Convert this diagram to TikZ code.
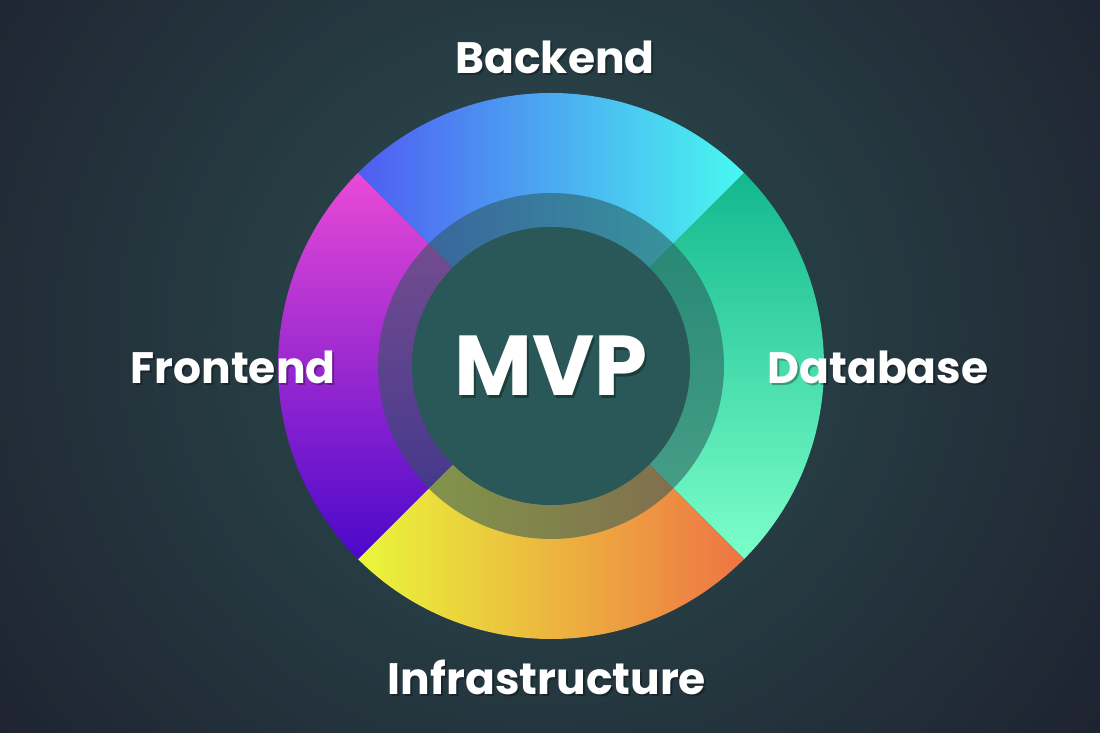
\documentclass[tikz,border=0pt]{standalone}
\usepackage{fontspec}
\setmainfont{Poppins}
\usetikzlibrary{calc}
\definecolor{bgin}{HTML}{2C4E50}
\definecolor{bgout}{HTML}{1E2230}
\definecolor{inner}{HTML}{2A5858}
\definecolor{beL}{HTML}{4F5CF2}
\definecolor{beR}{HTML}{48F8F0}
\definecolor{dbT}{HTML}{12B88E}
\definecolor{dbB}{HTML}{7CFFCA}
\definecolor{inL}{HTML}{EAF73A}
\definecolor{inR}{HTML}{EE7444}
\definecolor{feT}{HTML}{EA4AD6}
\definecolor{feB}{HTML}{4A08CA}
\tikzset{
  lbl/.style={text=white,font=\fontsize{44}{46}\selectfont\bfseries,inner sep=0pt},
  shadow/.style={text=black,opacity=0.3,font=\fontsize{44}{46}\selectfont\bfseries,inner sep=0pt},
  big/.style={text=white,font=\fontsize{85}{88}\selectfont\bfseries,inner sep=0pt},
  bigshadow/.style={text=black,opacity=0.3,font=\fontsize{85}{88}\selectfont\bfseries,inner sep=0pt},
}
\begin{document}
\begin{tikzpicture}[x=1pt,y=1pt]
\useasboundingbox (0,0) rectangle (1100,733);
\begin{scope}
\clip (0,0) rectangle (1100,733);
\fill[bgout] (0,0) rectangle (1100,733);
\shade[inner color=bgin,outer color=bgout] (540,400) circle[radius=700];
\end{scope}
\coordinate (c) at (551,367);
\def\Ro{273}\def\Ri{139}\def\Rm{173}
\shade[left color=beL,right color=beR]
  ([shift={(c)}]45:\Ro) arc[start angle=45,end angle=135,radius=\Ro] -- ([shift={(c)}]135:\Ri) arc[start angle=135,end angle=45,radius=\Ri] -- cycle;
\shade[top color=dbT,bottom color=dbB]
  ([shift={(c)}]-45:\Ro) arc[start angle=-45,end angle=45,radius=\Ro] -- ([shift={(c)}]45:\Ri) arc[start angle=45,end angle=-45,radius=\Ri] -- cycle;
\shade[left color=inL,right color=inR]
  ([shift={(c)}]-135:\Ro) arc[start angle=-135,end angle=-45,radius=\Ro] -- ([shift={(c)}]-45:\Ri) arc[start angle=-45,end angle=-135,radius=\Ri] -- cycle;
\shade[top color=feT,bottom color=feB]
  ([shift={(c)}]135:\Ro) arc[start angle=135,end angle=225,radius=\Ro] -- ([shift={(c)}]225:\Ri) arc[start angle=225,end angle=135,radius=\Ri] -- cycle;
\fill[inner,opacity=0.55,even odd rule] (c) circle[radius=\Rm] (c) circle[radius=\Ri];
\fill[inner] (c) circle[radius=\Ri];
\node[shadow] at (557,674) {Backend};
\node[lbl] (be) at (555,676) {Backend};
\node[shadow] at (235,364) {Frontend};
\node[lbl] (fe) at (233,366) {Frontend};
\node[shadow] at (880,364) {Database};
\node[lbl] (db) at (878,366) {Database};
\node[shadow] at (549,54) {Infrastructure};
\node[lbl] (inf) at (547,56) {Infrastructure};
\node[bigshadow] at (553,364) {MVP};
\node[big] (mvp) at (551,367) {MVP};
\end{tikzpicture}
\end{document}
